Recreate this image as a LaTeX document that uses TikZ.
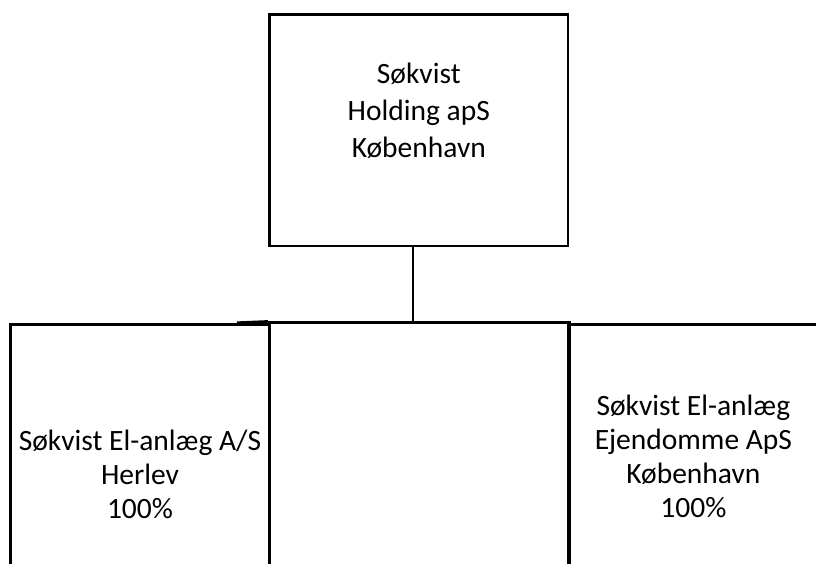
\documentclass[tikz,border=0pt]{standalone}
\usepackage{fontspec}
\setmainfont{Carlito}
\usetikzlibrary{calc}
\tikzset{
  orgbox/.style={draw=black,line width=2.6pt,align=center,inner sep=0pt,font=\fontsize{29.5}{34}\selectfont},
  topbox/.style={orgbox,font=\fontsize{29.5}{37}\selectfont},
  conn/.style={black,line width=1.2pt}
}
\begin{document}
\begin{tikzpicture}[x=1pt,y=-1pt]
\useasboundingbox (0,0) rectangle (816,563);
\clip (0,0) rectangle (816,563);
% parent company
\node[topbox,minimum width=298.5pt,minimum height=231.3pt,text depth=40pt] (holding) at (418.8,130.4) {Søkvist\\Holding apS\\København};
% subsidiaries (cut off at the bottom)
\node[orgbox,minimum width=258.5pt,minimum height=300pt] (elanlaeg) at (140,474.3) {Søkvist El-anlæg A/S\\Herlev\\100\%};
\node[orgbox,minimum width=300.1pt,minimum height=300pt] (middle) at (419.3,472.7) {};
\node[orgbox,minimum width=249.3pt,minimum height=264pt] (ejendomme) at (693.4,456.5) {Søkvist El-anlæg\\Ejendomme ApS\\København\\100\%};
\coordinate (bus) at (413,322.7);
\coordinate (stub) at (237,322.7);
\draw[conn] (holding.south -| bus) -- (bus);
\draw[line width=2.6pt] (stub) -- (middle.north west);
\end{tikzpicture}
\end{document}
